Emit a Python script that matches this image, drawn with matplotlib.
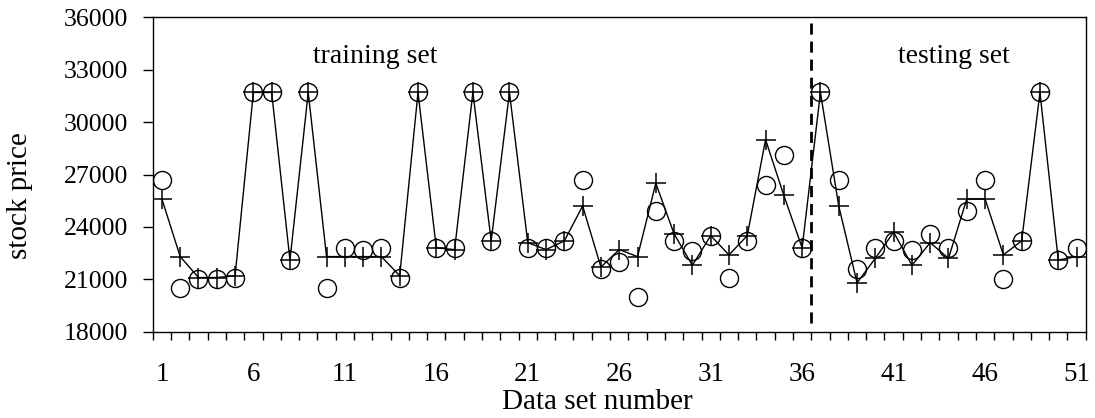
import numpy as np
import matplotlib.pyplot as plt
from matplotlib.ticker import FixedLocator, NullFormatter

# data set number 1..51
data_no = np.arange(1, 52)

# actual values (circles)
actual = [26700, 20500, 21000, 21000, 21100, 31700, 31700, 22100, 31700, 20500,
          22800, 22700, 22800, 21100, 31700, 22800, 22800, 31700, 23200, 31700,
          22800, 22800, 23200, 26700, 21600, 22000, 20000, 24900, 23200, 22600,
          23500, 21100, 23200, 26400, 28100, 22800, 31700, 26700, 21600, 22800,
          23200, 22700, 23600, 22800, 24900, 26700, 21000, 23200, 31700, 22100,
          22800]

# predicted values (plus markers + line)
predicted = [25600, 22300, 21100, 21100, 21200, 31700, 31700, 22100, 31700, 22300,
             22300, 22300, 22300, 21200, 31700, 22800, 22700, 31700, 23200, 31700,
             23100, 22700, 23200, 25200, 21700, 22700, 22300, 26500, 23600, 21800,
             23500, 22400, 23500, 29000, 25800, 22800, 31700, 25200, 20800, 22200,
             23700, 21800, 23100, 22200, 25600, 25600, 22400, 23200, 31700, 22100,
             22300]

split_at = 36.5
y_ticks = [18000, 21000, 24000, 27000, 30000, 33000, 36000]
x_labels = [1, 6, 11, 16, 21, 26, 31, 36, 41, 46, 51]

plt.rcParams['font.family'] = ['Liberation Serif', 'DejaVu Serif']

fig = plt.figure(figsize=(10.95, 4.18), dpi=100)
ax = fig.add_axes([0.1395, 0.2065, 0.852, 0.752])

ax.plot(data_no, predicted, color='black', lw=1.0, marker='+', ms=15,
        mew=1.1, zorder=3)
ax.plot(data_no, actual, ls='none', marker='o', ms=13, mfc='none',
        mec='black', mew=1.0, zorder=4)

ax.plot([split_at, split_at], [18500, 35700], color='black', lw=2.0,
        ls=(0, (4, 2.5)), zorder=2)

ax.text(12.65, 33750, 'training set', ha='center', va='center', fontsize=20)
ax.text(44.3, 33750, 'testing set', ha='center', va='center', fontsize=20)

ax.set_xlim(0.5, 51.5)
ax.set_ylim(18000, 36000)

# category style x axis: ticks between categories, labels every 5
ax.xaxis.set_major_locator(FixedLocator(np.arange(0.5, 52, 1)))
ax.xaxis.set_major_formatter(NullFormatter())
ax.xaxis.set_minor_locator(FixedLocator(x_labels))
ax.set_xticklabels([str(v) for v in x_labels], minor=True)
ax.tick_params(axis='x', which='major', direction='out', length=6, width=1)
ax.tick_params(axis='x', which='minor', length=0, pad=22, labelsize=19.5)

ax.set_yticks(y_ticks)
ax.set_yticklabels([str(v) for v in y_ticks])
ax.tick_params(axis='y', direction='out', length=7, width=1, labelsize=18.5, pad=11)

for sp in ax.spines.values():
    sp.set_linewidth(1.0)

ax.set_xlabel('Data set number', fontsize=21)
ax.xaxis.set_label_coords(0.476, -0.182)
ax.set_ylabel('stock price', fontsize=21)
ax.yaxis.set_label_coords(-0.128, 0.432)

fig.savefig('out.png', dpi=100)
